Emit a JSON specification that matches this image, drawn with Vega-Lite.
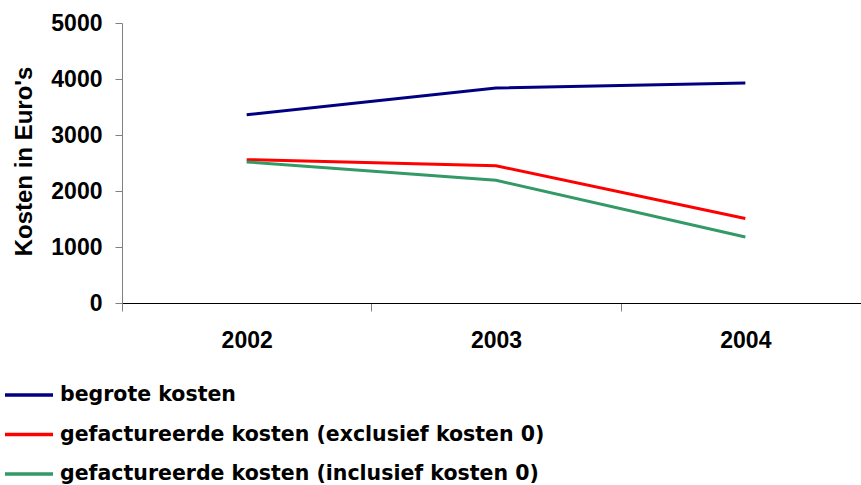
{
  "$schema": "https://vega.github.io/schema/vega-lite/v6.json",
  "width": 739,
  "height": 280,
  "autosize": {"type": "none"},
  "padding": {"left": 122, "top": 23, "right": 0, "bottom": 182},
  "background": "white",
  "config": {"view": {"stroke": null}, "font": "Liberation Sans"},
  "data": {
    "values": [
      {"jaar": "2002", "reeks": "begrote kosten", "kosten": 3360},
      {"jaar": "2003", "reeks": "begrote kosten", "kosten": 3840},
      {"jaar": "2004", "reeks": "begrote kosten", "kosten": 3930},
      {"jaar": "2002", "reeks": "gefactureerde kosten (exclusief kosten 0)", "kosten": 2560},
      {"jaar": "2003", "reeks": "gefactureerde kosten (exclusief kosten 0)", "kosten": 2450},
      {"jaar": "2004", "reeks": "gefactureerde kosten (exclusief kosten 0)", "kosten": 1510},
      {"jaar": "2002", "reeks": "gefactureerde kosten (inclusief kosten 0)", "kosten": 2520},
      {"jaar": "2003", "reeks": "gefactureerde kosten (inclusief kosten 0)", "kosten": 2190},
      {"jaar": "2004", "reeks": "gefactureerde kosten (inclusief kosten 0)", "kosten": 1180}
    ]
  },
  "mark": {"type": "line", "strokeWidth": 3},
  "encoding": {
    "x": {
      "field": "jaar",
      "type": "ordinal",
      "bandPosition": 0.5,
      "scale": {"type": "band", "paddingInner": 0, "paddingOuter": 0, "range": [0, 748]},
      "axis": {
        "title": null,
        "labelAngle": 0,
        "tickBand": "extent",
        "domainColor": "#000000",
        "domainWidth": 1,
        "tickColor": "#808080",
        "tickSize": 8,
        "labelFont": "Liberation Sans",
        "labelFontSize": 23,
        "labelFontWeight": "bold",
        "labelColor": "#000000",
        "labelPadding": 18
      }
    },
    "y": {
      "field": "kosten",
      "type": "quantitative",
      "scale": {"domain": [0, 5000], "nice": false},
      "axis": {
        "values": [0, 1000, 2000, 3000, 4000, 5000],
        "format": "d",
        "title": "Kosten in Euro's",
        "grid": false,
        "domainColor": "#808080",
        "tickColor": "#808080",
        "tickSize": 7,
        "labelPadding": 13,
        "labelFont": "Liberation Sans",
        "labelFontSize": 23,
        "labelFontWeight": "bold",
        "labelColor": "#000000",
        "titleFont": "Liberation Sans",
        "titleFontSize": 24,
        "titleFontWeight": "bold",
        "titleColor": "#000000",
        "titleX": -91,
        "titleY": 138,
        "titleAngle": -90,
        "titleBaseline": "alphabetic",
        "titleAlign": "center"
      }
    },
    "color": {
      "field": "reeks",
      "type": "nominal",
      "scale": {
        "domain": ["begrote kosten", "gefactureerde kosten (exclusief kosten 0)", "gefactureerde kosten (inclusief kosten 0)"],
        "range": ["#000080", "#FF0000", "#339966"]
      },
      "legend": {
        "title": null,
        "orient": "none",
        "legendX": -119,
        "legendY": 355,
        "direction": "vertical",
        "symbolType": "stroke",
        "symbolSize": 2304,
        "symbolStrokeWidth": 3.5,
        "labelFont": "DejaVu Sans",
        "labelFontSize": 20.5,
        "labelFontWeight": "bold",
        "labelColor": "#000000",
        "labelLimit": 0,
        "labelOffset": 5,
        "clipHeight": 34,
        "rowPadding": 5.5,
        "padding": 0
      }
    }
  }
}
